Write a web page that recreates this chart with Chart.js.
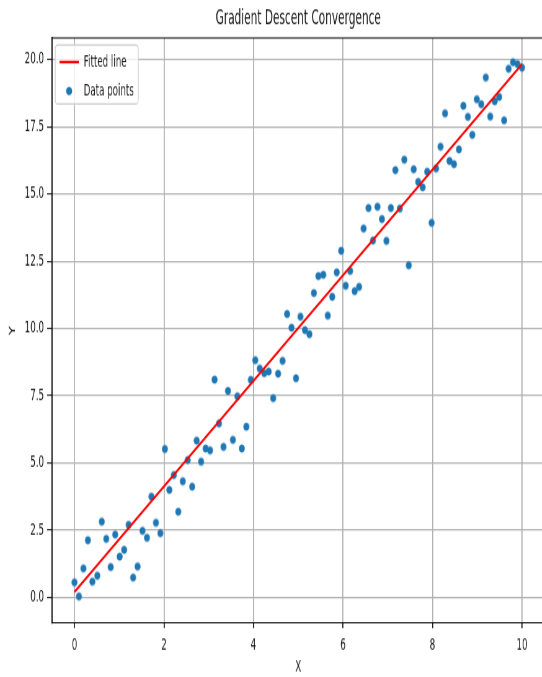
<!DOCTYPE html>
<html>
<head>
<meta charset="utf-8">
<title>Gradient Descent Convergence</title>
<script src="https://cdn.jsdelivr.net/npm/chart.js@4/dist/chart.umd.min.js"></script>
<style>
  html, body { margin: 0; padding: 0; background: #fff; overflow: hidden; width: 542px; height: 677px; }
  #wrap { position: absolute; left: 0; top: 0; transform-origin: 0 0; }
  canvas { display: block; }
</style>
</head>
<body>
<div id="wrap"><canvas id="chart"></canvas></div>
<script>
// Sample inputs (evenly spaced on 0..10)
const xValues = [
  0.00, 0.10, 0.20, 0.30, 0.40, 0.51, 0.61, 0.71, 0.81, 0.91,
  1.01, 1.11, 1.21, 1.31, 1.41, 1.52, 1.62, 1.72, 1.82, 1.92,
  2.02, 2.12, 2.22, 2.32, 2.42, 2.53, 2.63, 2.73, 2.83, 2.93,
  3.03, 3.13, 3.23, 3.33, 3.43, 3.54, 3.64, 3.74, 3.84, 3.94,
  4.04, 4.14, 4.24, 4.34, 4.44, 4.55, 4.65, 4.75, 4.85, 4.95,
  5.05, 5.15, 5.25, 5.35, 5.45, 5.56, 5.66, 5.76, 5.86, 5.96,
  6.06, 6.16, 6.26, 6.36, 6.46, 6.57, 6.67, 6.77, 6.87, 6.97,
  7.07, 7.17, 7.27, 7.37, 7.47, 7.58, 7.68, 7.78, 7.88, 7.98,
  8.08, 8.18, 8.28, 8.38, 8.48, 8.59, 8.69, 8.79, 8.89, 8.99,
  9.09, 9.19, 9.29, 9.39, 9.49, 9.60, 9.70, 9.80, 9.90, 10.00
];

// Noisy observations
const yValues = [
  0.56, 0.04, 1.08, 2.13, 0.59, 0.81, 2.82, 2.18, 1.13, 2.34,
  1.52, 1.77, 2.70, 0.74, 1.15, 2.48, 2.22, 3.75, 2.78, 2.39,
  5.52, 4.00, 4.55, 3.19, 4.32, 5.11, 4.12, 5.83, 5.05, 5.54,
  5.47, 8.10, 6.47, 5.60, 7.68, 5.86, 7.48, 5.54, 6.35, 8.09,
  8.82, 8.51, 8.34, 8.40, 7.41, 8.32, 8.80, 10.54, 10.03, 8.15,
  10.44, 9.94, 9.79, 11.32, 11.95, 12.00, 10.48, 11.18, 12.09, 12.89,
  11.59, 12.14, 11.39, 11.55, 13.72, 14.48, 13.27, 14.53, 14.07, 13.26,
  14.48, 15.89, 14.46, 16.28, 12.35, 15.92, 15.45, 15.25, 15.83, 13.93,
  15.95, 16.76, 18.00, 16.23, 16.11, 16.66, 18.28, 17.87, 17.20, 18.52,
  18.34, 19.33, 17.88, 18.45, 18.61, 17.74, 19.66, 19.90, 19.83, 19.70
];

// Fitted line end points after gradient descent
const fitX = [0, 10];
const fitY = [0.20, 19.83];

// Axis ticks and limits
const xTicks = [0, 2, 4, 6, 8, 10];
const yTicks = [0, 2.5, 5, 7.5, 10, 12.5, 15, 17.5, 20];
const xLimits = [-0.5, 10.5];
const yLimits = [-0.95, 20.8];

const seriesNames = ['Fitted line', 'Data points'];
const titleText = 'Gradient Descent Convergence';
const xLabel = 'X';
const yLabel = 'Y';

// The figure is laid out on an internal canvas and then resized on screen:
// narrowed horizontally, stretched a little vertically.
const SX = 0.62;
const SY = 1.15;
const W = Math.ceil(546 / SX) + 1;
const H = Math.round(677 / SY);
const AXES_RIGHT = 546 / SX;
const AXES_TOP = 38 / SY;
const AXES_BOTTOM = 623 / SY;

const FONT = "'DejaVu Sans', 'Liberation Sans', sans-serif";
const TEXT = '#1a1a1a';
const BLUE = '#1f77b4';
const RED = '#ff0000';
const GRID = '#b0b0b0';

const canvas = document.getElementById('chart');
canvas.width = W;
canvas.height = H;
canvas.style.width = W + 'px';
canvas.style.height = H + 'px';
document.getElementById('wrap').style.transform = 'scale(' + SX + ',' + SY + ')';

// Round marker on screen: an ellipse in internal coordinates.
const DOT_RX = 3.0 / SX;
const DOT_RY = 4.1 / SY;
function makeDot() {
  const c = document.createElement('canvas');
  c.width = Math.ceil(DOT_RX * 2 + 2);
  c.height = Math.ceil(DOT_RY * 2 + 2);
  const g = c.getContext('2d');
  g.fillStyle = BLUE;
  g.beginPath();
  g.ellipse(c.width / 2, c.height / 2, DOT_RX, DOT_RY, 0, 0, Math.PI * 2);
  g.fill();
  return c;
}
const dotImage = makeDot();

const points = xValues.map((x, i) => ({ x: x, y: yValues[i] }));
const fitPoints = fitX.map((x, i) => ({ x: x, y: fitY[i] }));

// Top and right spines plus the boxed legend in the upper-left corner.
const framePlugin = {
  id: 'frameAndLegend',
  afterDraw(chart) {
    const { ctx, chartArea: a } = chart;
    ctx.save();
    ctx.strokeStyle = '#000';
    ctx.lineWidth = 1.1;
    ctx.beginPath();
    ctx.moveTo(a.left, a.top);
    ctx.lineTo(a.right, a.top);
    ctx.stroke();
    ctx.lineWidth = 1.8;
    ctx.beginPath();
    ctx.moveTo(a.right, a.top);
    ctx.lineTo(a.right, a.bottom);
    ctx.stroke();

    // legend frame
    const bx = 89, by = 45 / SY, bw = 134, bh = 59 / SY;
    ctx.beginPath();
    ctx.roundRect(bx, by, bw, bh, 4);
    ctx.fillStyle = 'rgba(255,255,255,0.8)';
    ctx.fill();
    ctx.strokeStyle = '#cccccc';
    ctx.lineWidth = 1.3;
    ctx.stroke();

    const row1 = 62 / SY, row2 = 91 / SY;

    // line handle
    ctx.strokeStyle = RED;
    ctx.lineWidth = 2.3;
    ctx.beginPath();
    ctx.moveTo(96, row1);
    ctx.lineTo(127, row1);
    ctx.stroke();

    // marker handle
    ctx.fillStyle = BLUE;
    ctx.beginPath();
    ctx.ellipse(111.5, row2, DOT_RX, DOT_RY, 0, 0, Math.PI * 2);
    ctx.fill();

    ctx.fillStyle = TEXT;
    ctx.font = '14px ' + FONT;
    ctx.textBaseline = 'middle';
    ctx.textAlign = 'left';
    ctx.fillText(seriesNames[0], 135, row1);
    ctx.fillText(seriesNames[1], 135, row2);
    ctx.restore();
  }
};

new Chart(canvas, {
  type: 'scatter',
  data: {
    datasets: [
      {
        type: 'line',
        label: seriesNames[0],
        data: fitPoints,
        borderColor: RED,
        borderWidth: 2.3,
        pointRadius: 0,
        fill: false,
        tension: 0
      },
      {
        label: seriesNames[1],
        data: points,
        backgroundColor: BLUE,
        borderColor: BLUE,
        borderWidth: 0,
        pointStyle: dotImage,
        pointRadius: 4,
        pointHoverRadius: 4
      }
    ]
  },
  options: {
    responsive: false,
    animation: false,
    devicePixelRatio: 1,
    layout: { padding: { left: 0, top: 0, bottom: 0, right: W - AXES_RIGHT } },
    plugins: {
      legend: { display: false },
      tooltip: { enabled: false },
      title: {
        display: true,
        text: titleText,
        fullSize: false,
        color: TEXT,
        font: { family: FONT, size: 17, weight: 'normal', lineHeight: 1.2 },
        padding: { top: 6.3, bottom: AXES_TOP - 6.3 - 20.4 }
      }
    },
    scales: {
      x: {
        type: 'linear',
        min: xLimits[0],
        max: xLimits[1],
        afterBuildTicks: s => { s.ticks = xTicks.map(v => ({ value: v })); },
        afterFit: s => { s.height = H - AXES_BOTTOM; },
        grid: {
          color: GRID,
          lineWidth: 1.8,
          drawTicks: true,
          tickLength: 4.4,
          tickColor: '#000',
          tickWidth: 1.6
        },
        border: { display: true, color: '#000', width: 1.1 },
        ticks: {
          color: TEXT,
          font: { family: FONT, size: 14 },
          padding: 7.3,
          maxRotation: 0,
          callback: v => String(v)
        },
        title: {
          display: true,
          text: xLabel,
          color: TEXT,
          font: { family: FONT, size: 14 },
          padding: { top: 0, bottom: 0.6 }
        }
      },
      y: {
        type: 'linear',
        min: yLimits[0],
        max: yLimits[1],
        afterBuildTicks: s => { s.ticks = yTicks.map(v => ({ value: v })); },
        afterFit: s => { s.width = 84; },
        grid: {
          color: GRID,
          lineWidth: 1.25,
          drawTicks: true,
          tickLength: 8,
          tickColor: '#000',
          tickWidth: 1.0
        },
        border: { display: true, color: '#000', width: 1.8 },
        ticks: {
          color: TEXT,
          font: { family: FONT, size: 14 },
          padding: 5,
          callback: v => Number(v).toFixed(1)
        },
        title: {
          display: true,
          text: yLabel,
          color: TEXT,
          font: { family: FONT, size: 14 },
          padding: { top: 12, bottom: 0 }
        }
      }
    }
  },
  plugins: [framePlugin]
});
</script>
</body>
</html>
